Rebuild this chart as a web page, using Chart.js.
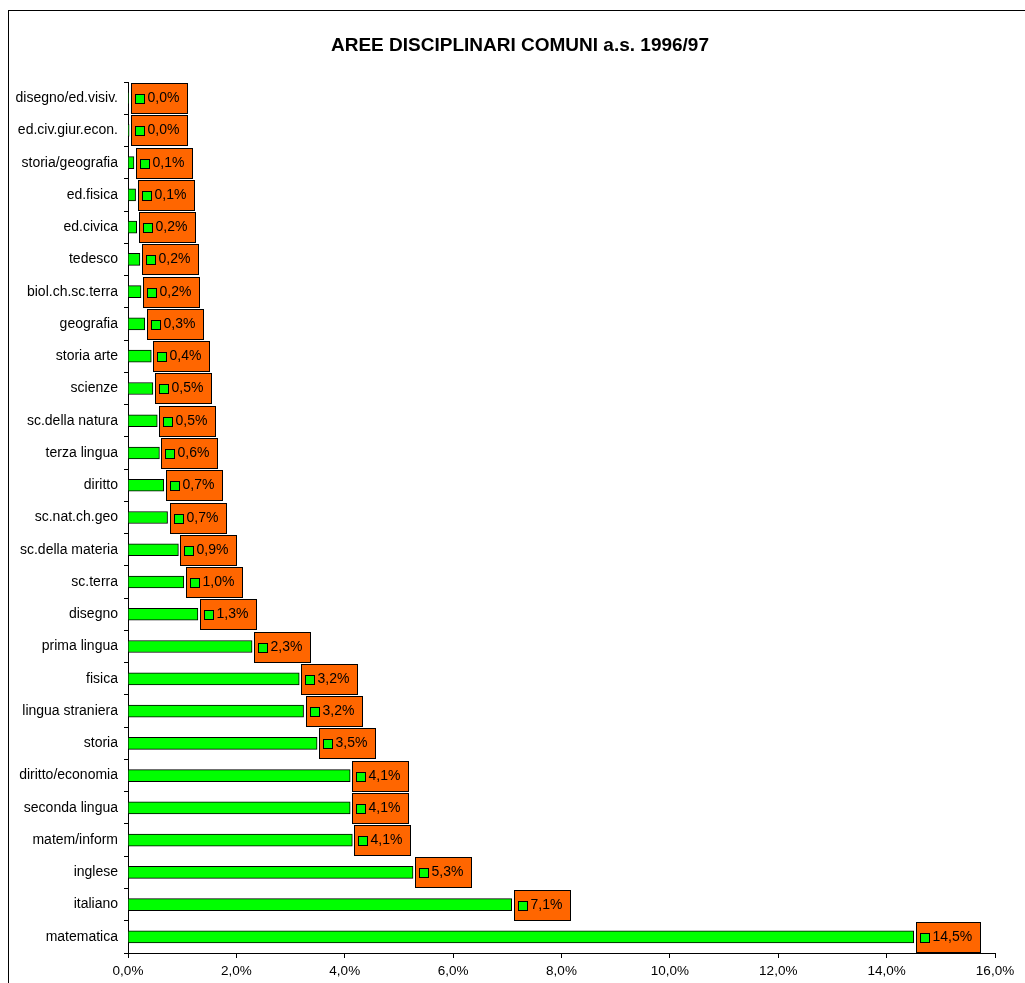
<!DOCTYPE html>
<html>
<head>
<meta charset="utf-8">
<script src="https://cdn.jsdelivr.net/npm/chart.js@4/dist/chart.umd.min.js"></script>
<style>
  body { margin: 0; background: #fff; }
  canvas { display: block; }
</style>
</head>
<body>
<canvas id="chart" width="1025" height="983"></canvas>
<script>
// --- data (top to bottom, as in the picture) ---
const categories = [
    'disegno/ed.visiv.', 'ed.civ.giur.econ.', 'storia/geografia', 'ed.fisica', 'ed.civica',
    'tedesco', 'biol.ch.sc.terra', 'geografia', 'storia arte', 'scienze',
    'sc.della natura', 'terza lingua', 'diritto', 'sc.nat.ch.geo', 'sc.della materia',
    'sc.terra', 'disegno', 'prima lingua', 'fisica', 'lingua straniera',
    'storia', 'diritto/economia', 'seconda lingua', 'matem/inform', 'inglese',
    'italiano', 'matematica'
];
const values = [
    0.01, 0.02, 0.11, 0.14, 0.16,
    0.22, 0.24, 0.31, 0.43, 0.46,
    0.54, 0.58, 0.66, 0.73, 0.93,
    1.03, 1.29, 2.29, 3.16, 3.24,
    3.49, 4.10, 4.10, 4.14, 5.26,
    7.08, 14.50
];
const xTicks = [0, 2, 4, 6, 8, 10, 12, 14, 16];
const titleText = 'AREE DISCIPLINARI COMUNI a.s. 1996/97';

const FONT = '"Liberation Sans", Arial, sans-serif';
const fmt = v => v.toFixed(1).replace('.', ',') + '%';

// white page, thin frame and the title (centred on the page, not the plot)
const framePlugin = {
    id: 'frame',
    beforeDraw(chart) {
        const ctx = chart.ctx;
        ctx.save();
        ctx.fillStyle = '#fff';
        ctx.fillRect(0, 0, chart.width, chart.height);
        ctx.strokeStyle = '#000';
        ctx.lineWidth = 1;
        ctx.strokeRect(8.5, 10.5, chart.width + 20, chart.height + 20);
        ctx.fillStyle = '#000';
        ctx.font = 'bold 19px ' + FONT;
        ctx.textAlign = 'center';
        ctx.textBaseline = 'middle';
        ctx.fillText(titleText, 520, 46);
        ctx.restore();
    }
};

// orange value boxes with a green key square
const valueBoxes = {
    id: 'valueBoxes',
    afterDatasetsDraw(chart) {
        const ctx = chart.ctx;
        const meta = chart.getDatasetMeta(0);
        ctx.save();
        ctx.font = '14px ' + FONT;
        ctx.textBaseline = 'middle';
        meta.data.forEach((bar, i) => {
            const txt = fmt(values[i]);
            const tw = ctx.measureText(txt).width;
            const bx = Math.round(bar.x) + 2.5;
            const by = Math.round(bar.y) - 14.5;
            const bw = Math.round(tw + 24);
            ctx.fillStyle = '#ff6600';
            ctx.strokeStyle = '#000';
            ctx.lineWidth = 1;
            ctx.fillRect(bx, by, bw, 30);
            ctx.strokeRect(bx, by, bw, 30);
            ctx.fillStyle = '#00ff00';
            ctx.fillRect(bx + 4, by + 11, 9, 9);
            ctx.strokeRect(bx + 4, by + 11, 9, 9);
            ctx.fillStyle = '#000';
            ctx.fillText(txt, bx + 16, by + 15);
        });
        ctx.restore();
    }
};

new Chart(document.getElementById('chart'), {
    type: 'bar',
    data: {
        labels: categories,
        datasets: [{
            data: values,
            backgroundColor: '#00ff00',
            borderColor: '#000',
            borderWidth: 1,
            barThickness: 12
        }]
    },
    options: {
        indexAxis: 'y',
        responsive: false,
        animation: false,
        layout: { padding: { left: 0, right: 30, top: 82, bottom: 0 } },
        plugins: {
            legend: { display: false },
            tooltip: { enabled: false },
            title: { display: false }
        },
        scales: {
            x: {
                min: 0, max: 16,
                afterBuildTicks: s => { s.ticks = xTicks.map(v => ({ value: v })); },
                afterFit: s => { s.height = 30; },
                ticks: {
                    color: '#000',
                    font: { family: FONT, size: 13.5 },
                    padding: 5,
                    maxRotation: 0,
                    callback: v => fmt(v)
                },
                grid: { drawOnChartArea: false, drawTicks: true, tickLength: 5, color: '#000' },
                border: { color: '#000', width: 1 }
            },
            y: {
                afterFit: s => { s.width = 128; },
                ticks: {
                    color: '#000',
                    font: { family: FONT, size: 14 },
                    padding: 6
                },
                grid: { drawOnChartArea: false, drawTicks: true, tickLength: 4, color: '#000', offset: true },
                border: { color: '#000', width: 1 }
            }
        }
    },
    plugins: [framePlugin, valueBoxes]
});
</script>
</body>
</html>
